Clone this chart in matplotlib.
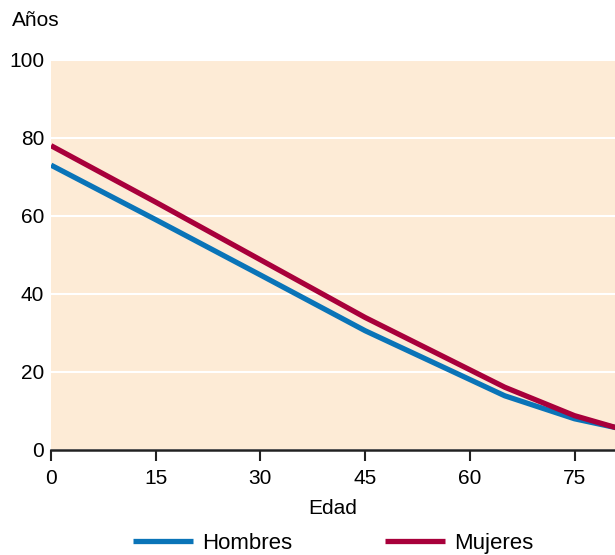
import matplotlib.pyplot as plt

# Esperanza de vida por edad
edad = [0, 15, 30, 45, 65, 75, 81]
hombres = [73.0, 59.0, 44.8, 30.5, 13.8, 7.9, 5.6]
mujeres = [78.0, 63.5, 48.7, 33.9, 16.0, 8.7, 5.6]

xticks = [0, 15, 30, 45, 60, 75]
yticks = [0, 20, 40, 60, 80, 100]

plt.rcParams['font.family'] = ['Liberation Sans', 'DejaVu Sans']

fig = plt.figure(figsize=(6.15, 5.55), dpi=100)
ax = fig.add_axes([0.083, 0.19, 0.917, 0.702])
ax.set_facecolor('#fdebd6')

ax.plot(edad, hombres, color='#0a74b8', lw=3.8, label='Hombres', solid_capstyle='butt')
ax.plot(edad, mujeres, color='#a8003b', lw=3.8, label='Mujeres', solid_capstyle='butt')

ax.set_xlim(0, 80.8)
ax.set_ylim(0, 100)
ax.set_xticks(xticks)
ax.set_yticks(yticks)
ax.grid(axis='y', color='white', lw=1.5)
ax.set_axisbelow(True)

for s in ['top', 'right', 'left']:
    ax.spines[s].set_visible(False)
ax.spines['bottom'].set_color('#222222')
ax.spines['bottom'].set_linewidth(1.8)
ax.spines['bottom'].set_zorder(5)

ax.tick_params(axis='x', length=8, width=1.5, color='#222222', labelsize=15, pad=6)
ax.tick_params(axis='y', length=0, labelsize=15, pad=5)

ax.set_xlabel('Edad', fontsize=15, labelpad=8)
fig.text(0.02, 0.963, 'Años', fontsize=15, va='center', ha='left')

ax.legend(loc='center', bbox_to_anchor=(0.5, -0.24), ncol=2, frameon=False,
          fontsize=16, handlelength=2.7, columnspacing=4.2, handletextpad=0.4,
          borderpad=0)

fig.savefig('out.png', dpi=100)
